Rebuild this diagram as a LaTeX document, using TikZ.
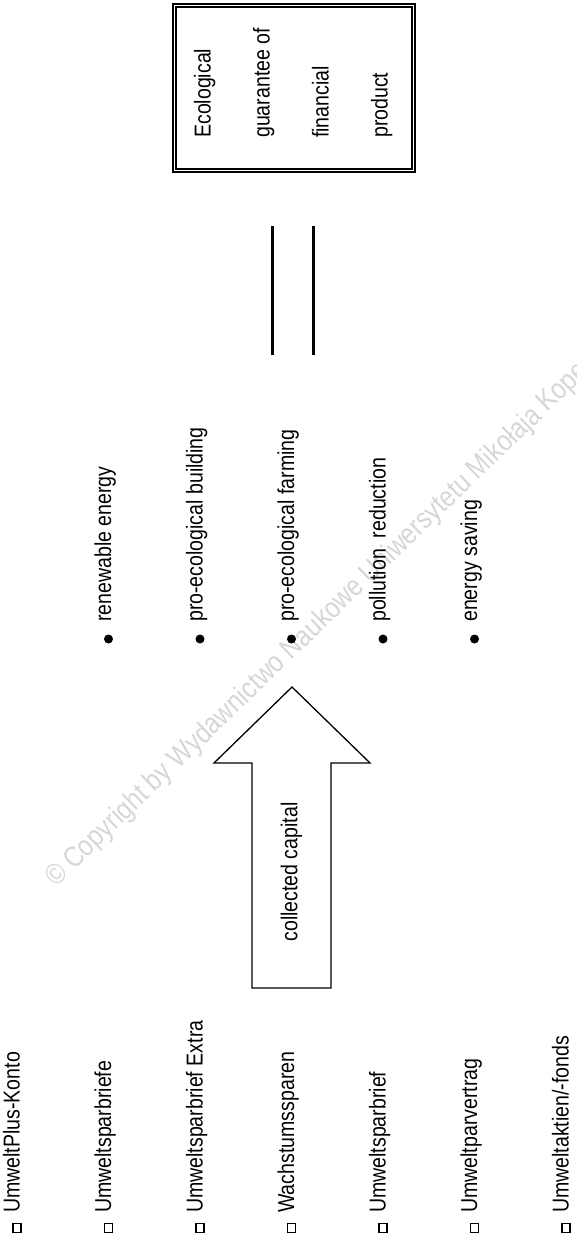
\documentclass[tikz,border=0pt]{standalone}
\usepackage{fontspec}
\setmainfont{Liberation Sans}[FakeStretch=0.85]
\usetikzlibrary{calc}
\begin{document}
\begin{tikzpicture}[x=1pt,y=-1pt,
  lbl/.style={rotate=90, anchor=mid west, inner sep=0pt, font=\fontsize{23}{26}\selectfont},
  sq/.style={draw, line width=1.2pt, minimum width=8pt, minimum height=9pt, inner sep=0pt},
  dot/.style={fill, circle, minimum size=9pt, inner sep=0pt},
  shaft/.style={draw, line width=1.3pt, line join=miter},
  eqbar/.style={line width=3pt}]
\useasboundingbox (0,0) rectangle (576,1246);

% faint publisher watermark across the page
\begin{scope}
  \clip (0,0) rectangle (576,1246);
  \node[rotate=44, anchor=base west, inner sep=0pt, text=black!16,
        font=\fontsize{29}{32}\selectfont] (wm) at (56,888)
    {© Copyright by Wydawnictwo Naukowe Uniwersytetu Mikołaja Kopernika};
\end{scope}

% savings products (left column)
\node[sq] (s1) at (17,1228) {};    \node[lbl] (p1) at (17,1213) {UmweltPlus-Konto};
\node[sq] (s2) at (108.5,1228) {}; \node[lbl] (p2) at (108.5,1213) {Umweltsparbriefe};
\node[sq] (s3) at (200,1228) {};   \node[lbl] (p3) at (200,1213) {Umweltsparbrief Extra};
\node[sq] (s4) at (291.5,1228) {}; \node[lbl] (p4) at (291.5,1213) {Wachstumssparen};
\node[sq] (s5) at (383,1228) {};   \node[lbl] (p5) at (383,1213) {Umweltsparbrief};
\node[sq] (s6) at (474.5,1228) {}; \node[lbl] (p6) at (474.5,1213) {Umweltparvertrag};
\node[sq] (s7) at (566,1228) {};   \node[lbl] (p7) at (566,1213) {Umweltaktien/-fonds};

% big arrow carrying the capital
\draw[shaft] (252,988) coordinate (a1) -- (252,763) -- (214,763) -- (292,687) coordinate (tip)
  -- (370,763) -- (331,763) -- (331,988) -- cycle;
\node[lbl, anchor=center] (cap) at (291.5,872) {collected capital};

% uses of the capital
\node[dot] (b1) at (108.5,639) {}; \node[lbl] (u1) at (108.5,622) {renewable energy};
\node[dot] (b2) at (200,639) {};   \node[lbl] (u2) at (200,622) {pro-ecological building};
\node[dot] (b3) at (291.5,639) {}; \node[lbl] (u3) at (291.5,622) {pro-ecological farming};
\node[dot] (b4) at (383,639) {};   \node[lbl] (u4) at (383,622) {pollution\ \ reduction};
\node[dot] (b5) at (474.5,639) {}; \node[lbl] (u5) at (474.5,622) {energy saving};

% equals sign
\coordinate (e1a) at (272,226); \coordinate (e1b) at (272,355);
\coordinate (e2a) at (313,226); \coordinate (e2b) at (313,355);
\draw[eqbar] (e1a) -- (e1b);
\draw[eqbar] (e2a) -- (e2b);

% double-framed result box
\node[draw, line width=2pt, minimum width=242pt, minimum height=168pt, inner sep=0pt] (guar) at (294,88) {};
\draw[line width=1.2pt] ($(guar.north west)+(4,4)$) rectangle ($(guar.south east)+(-4,-4)$);
\node[lbl] (g1) at (208,138) {Ecological};
\node[lbl] (g2) at (267,138) {guarantee of};
\node[lbl] (g3) at (326,138) {financial};
\node[lbl] (g4) at (385,138) {product};
\end{tikzpicture}
\end{document}
